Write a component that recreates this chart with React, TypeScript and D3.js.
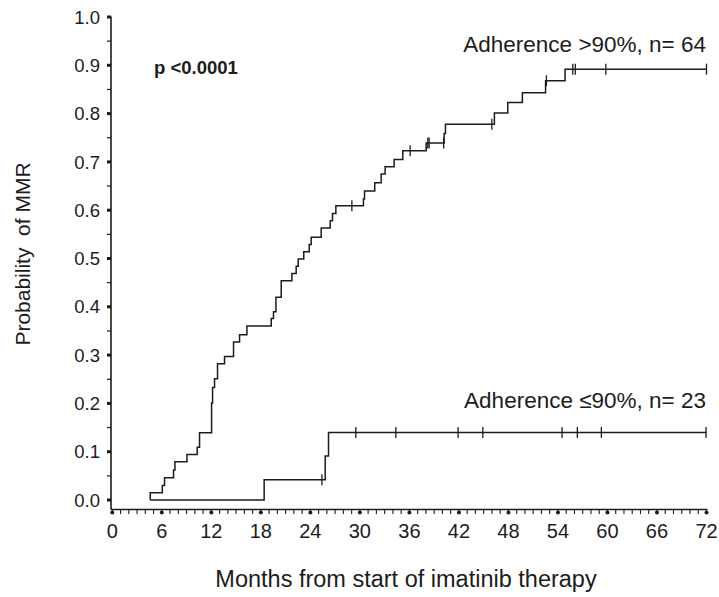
import React, { useEffect, useRef } from 'react';
import * as d3 from 'd3';

// x axis: months, y axis: probability of MMR
const xTickLabels = [0, 6, 12, 18, 24, 30, 36, 42, 48, 54, 60, 66, 72];
const yTickLabels = [0.0, 0.1, 0.2, 0.3, 0.4, 0.5, 0.6, 0.7, 0.8, 0.9, 1.0];

// Adherence >90%, n= 64 (step times in months, probability after the step)
const highTimes = [
  4.6, 4.6, 6.06, 6.33, 7.42, 7.59, 9.05, 10.29, 10.57, 12.03, 12.15, 12.39, 12.75,
  13.6, 14.69, 15.42, 16.31, 19.26, 19.53, 19.83, 20.47, 21.76, 22.28, 22.53, 23.2,
  23.86, 24.1, 25.31, 26.4, 26.68, 27.09, 30.43, 30.56, 31.8, 32.58, 33.06, 34.15,
  35.2, 38.03, 40.21, 40.37, 46.3, 47.92, 49.69, 52.5, 54.86,
];
const highValues = [
  0, 0.015, 0.03, 0.046, 0.062, 0.079, 0.094, 0.109, 0.139, 0.201, 0.233, 0.251, 0.282,
  0.297, 0.327, 0.342, 0.36, 0.376, 0.39, 0.42, 0.454, 0.469, 0.484, 0.499, 0.514,
  0.529, 0.544, 0.563, 0.578, 0.593, 0.609, 0.623, 0.64, 0.657, 0.675, 0.69, 0.705,
  0.723, 0.739, 0.759, 0.778, 0.801, 0.823, 0.843, 0.868, 0.892,
];
const highCensored = [29.03, 36.09, 38.23, 38.39, 40.15, 45.99, 52.6, 55.8, 56.1, 59.8, 72.0];

// Adherence ≤90%, n= 23
const lowTimes = [4.6, 18.4, 25.8, 26.2];
const lowValues = [0, 0.042, 0.091, 0.14];
const lowCensored = [25.4, 29.51, 34.36, 41.9, 44.9, 54.5, 56.35, 59.26, 71.94];

const W = 719;
const H = 597;
const INK = '#1c1c1c';
const FONT = '"Liberation Sans", Arial, Helvetica, sans-serif';

const App = () => {
  const ref = useRef<SVGGElement>(null);

  useEffect(() => {
    const svg = d3.select(ref.current);
    svg.selectAll('*').remove();

    const x = d3.scaleLinear().domain([0, 72]).range([112.3, 706.5]);
    const y = d3.scaleLinear().domain([0, 1]).range([500, 17]);
    const axisY = 509.5;
    const axisX = 111;

    // y axis
    const gy = svg.append('g');
    gy.append('line')
      .attr('x1', axisX).attr('x2', axisX)
      .attr('y1', y(1) - 0.5).attr('y2', axisY)
      .attr('stroke', INK).attr('stroke-width', 1.6);
    gy.selectAll('line.major')
      .data(yTickLabels)
      .enter()
      .append('line')
      .attr('class', 'major')
      .attr('x1', axisX - 4).attr('x2', axisX)
      .attr('y1', (d) => y(d)).attr('y2', (d) => y(d))
      .attr('stroke', INK).attr('stroke-width', 3);
    gy.selectAll('line.minor')
      .data(d3.range(0.05, 1, 0.1))
      .enter()
      .append('line')
      .attr('class', 'minor')
      .attr('x1', axisX - 4).attr('x2', axisX)
      .attr('y1', (d) => y(d)).attr('y2', (d) => y(d))
      .attr('stroke', INK).attr('stroke-width', 1.2);
    gy.selectAll('text')
      .data(yTickLabels)
      .enter()
      .append('text')
      .attr('x', 100)
      .attr('y', (d) => y(d))
      .attr('dy', '0.36em')
      .attr('text-anchor', 'end')
      .attr('font-size', 18.5)
      .attr('fill', INK)
      .text((d) => d3.format('.1f')(d));

    // x axis
    const gx = svg.append('g');
    gx.append('line')
      .attr('x1', axisX).attr('x2', x(72) + 1)
      .attr('y1', axisY).attr('y2', axisY)
      .attr('stroke', INK).attr('stroke-width', 1.6);
    gx.selectAll('line.minor')
      .data(d3.range(0, 73, 1))
      .enter()
      .append('line')
      .attr('class', 'minor')
      .attr('x1', (d) => x(d)).attr('x2', (d) => x(d))
      .attr('y1', axisY).attr('y2', axisY + 4.5)
      .attr('stroke', INK).attr('stroke-width', 1.1);
    gx.selectAll('circle')
      .data(xTickLabels)
      .enter()
      .append('circle')
      .attr('cx', (d) => x(d))
      .attr('cy', axisY + 3)
      .attr('r', 2)
      .attr('fill', INK);
    gx.selectAll('text')
      .data(xTickLabels)
      .enter()
      .append('text')
      .attr('x', (d) => x(d))
      .attr('y', 537.5)
      .attr('text-anchor', 'middle')
      .attr('font-size', 20)
      .attr('fill', INK)
      .text((d) => d);

    // curves
    const line = d3
      .line<[number, number]>()
      .x((d) => x(d[0]))
      .y((d) => y(d[1]))
      .curve(d3.curveStepAfter);

    const drawCurve = (times: number[], values: number[], censored: number[]) => {
      const pts: [number, number][] = times.map((t, i) => [t, values[i]]);
      pts.push([72, values[values.length - 1]]);
      svg.append('path')
        .attr('d', line(pts))
        .attr('fill', 'none')
        .attr('stroke', INK)
        .attr('stroke-width', 1.5);
      const valueAt = (t: number) => {
        let v = values[0];
        times.forEach((tt, i) => {
          if (tt <= t) v = values[i];
        });
        return v;
      };
      svg.append('g')
        .selectAll('line')
        .data(censored)
        .enter()
        .append('line')
        .attr('x1', (d) => x(d)).attr('x2', (d) => x(d))
        .attr('y1', (d) => y(valueAt(d)) - 5.5)
        .attr('y2', (d) => y(valueAt(d)) + 5.5)
        .attr('stroke', INK)
        .attr('stroke-width', 1.3);
    };

    drawCurve(highTimes, highValues, highCensored);
    drawCurve(lowTimes, lowValues, lowCensored);
  }, []);

  return (
    <svg
      width={W}
      height={H}
      style={{ position: 'absolute', left: 0, top: 0, background: '#fff', fontFamily: FONT }}
    >
      <g ref={ref} />
      <text x={706} y={52} textAnchor="end" fontSize={22.5} fill={INK} fontFamily={FONT}>
        Adherence &gt;90%, n= 64
      </text>
      <text x={706} y={408} textAnchor="end" fontSize={22.5} fill={INK} fontFamily={FONT}>
        Adherence ≤90%, n= 23
      </text>
      <text x={154} y={74} fontSize={18.5} fontWeight="bold" fill={INK} fontFamily={FONT}>
        p &lt;0.0001
      </text>
      <text
        transform="translate(30,254) rotate(-90)"
        textAnchor="middle"
        fontSize={21}
        fill={INK}
        fontFamily={FONT}
        style={{ whiteSpace: 'pre' }}
      >
        {'Probability  of MMR'}
      </text>
      <text x={406} y={587} textAnchor="middle" fontSize={23.5} fill={INK} fontFamily={FONT}>
        Months from start of imatinib therapy
      </text>
    </svg>
  );
};

export default App;
